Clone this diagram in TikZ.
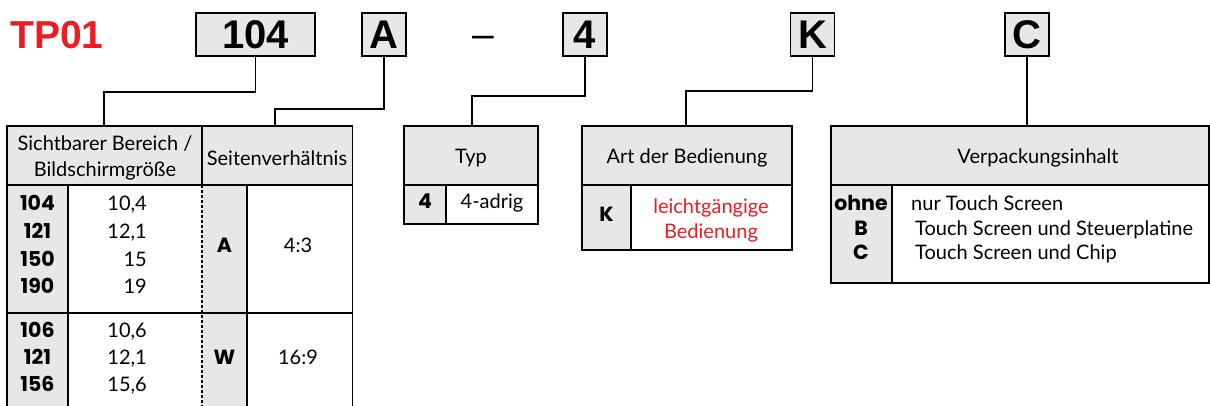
\documentclass[tikz,border=0pt]{standalone}
\usepackage{fontspec}
\setmainfont{Lato}
\newfontfamily\helfont{Liberation Sans}
\newfontfamily\codefont{Poppins}
\definecolor{gfill}{HTML}{E6E7E8}
\definecolor{tpred}{HTML}{ED1C24}
\newcommand\tabfont{\fontsize{20}{26}\selectfont}
\tikzset{
  topbox/.style={draw, line width=1.8pt, fill=gfill, minimum height=43pt, minimum width=44pt, inner sep=0pt, font=\helfont\bfseries\fontsize{40}{40}\selectfont},
  conn/.style={line width=1.6pt},
  outer/.style={line width=1.8pt},
  inner/.style={line width=1.1pt},
  cell/.style={inner sep=0pt, anchor=mid, font=\tabfont},
  cellr/.style={cell, anchor=mid east},
  celll/.style={cell, anchor=mid west},
  code/.style={cell, font=\codefont\bfseries\fontsize{20.5}{26}\selectfont},
  head/.style={inner sep=0pt, align=center, font=\tabfont},
}
\begin{document}
\begin{tikzpicture}[x=1pt,y=-1pt]
\useasboundingbox (0,0) rectangle (1210,405);
% ---------- top row ----------
\node[inner sep=0pt, text=tpred, font=\helfont\bfseries\fontsize{39}{39}\selectfont] (tp) at (57,35) {TP01};
\node[topbox, minimum width=119pt] (b104) at (255.5,34.5) {104};
\node[topbox] (bA) at (384,34.5) {A};
\node[inner sep=0pt, font=\helfont\fontsize{39}{39}\selectfont] (dash) at (483,42) {–};
\node[topbox] (b4) at (584.7,34.5) {4};
\node[topbox] (bK) at (812.5,34.5) {K};
\node[topbox] (bC) at (1027,34.5) {C};
% connector targets
\coordinate (t1) at (104,126);
\coordinate (t2) at (275,126);
\coordinate (t3) at (472,126);
\coordinate (t4) at (686,126);
\coordinate (t5) at (1027,126);
\draw[conn] (b104.south) -- ++(0,35) -| (t1);
\draw[conn] (bA.south) -- ++(0,52) -| (t2);
\draw[conn] (b4.south) -- ++(0,39) -| (t3);
\draw[conn] (bK.south) -- ++(0,34) -| (t4);
\draw[conn] (bC.south) -- (t5);
% ---------- table 1 ----------
\fill[gfill] (7,126) rectangle (352.5,185);
\fill[gfill] (7,185) rectangle (68,412);
\fill[gfill] (202,185) rectangle (247,412);
\draw[inner] (7,185) -- (352.5,185);
\draw[inner] (7,313) -- (352.5,313);
\draw[inner] (202,126) -- (202,185);
\draw[inner, dash pattern=on 3pt off 2pt] (202,185) -- (202,412);
\draw[inner] (68,185) -- (68,412);
\draw[inner] (247,185) -- (247,412);
\draw[outer] (7,412) -- (7,126) -- (352.5,126) -- (352.5,412);
\node[head] (h1) at (105,158) {Sichtbarer Bereich /\\[0pt]Bildschirmgröße};
\node[head] (h2) at (277,158) {Seitenverhältnis};
\node[code] (c1) at (37.5,208) {104};
\node[code] (c2) at (37.5,236) {121};
\node[code] (c3) at (37.5,263.5) {150};
\node[code] (c4) at (37.5,291) {190};
\node[cellr] (v1) at (147,208) {10,4};
\node[cellr] (v2) at (147,236) {12,1};
\node[cellr] (v3) at (147,263.5) {15};
\node[cellr] (v4) at (147,291) {19};
\node[code] (cA) at (224.5,250) {A};
\node[cell] (rA) at (298,250) {4:3};
\node[code] (c5) at (37.5,335) {106};
\node[code] (c6) at (37.5,362) {121};
\node[code] (c7) at (37.5,389) {156};
\node[cellr] (v5) at (147,335) {10,6};
\node[cellr] (v6) at (147,362) {12,1};
\node[cellr] (v7) at (147,389) {15,6};
\node[code] (cW) at (224.5,362) {W};
\node[cell] (rW) at (298,362) {16:9};
% ---------- Typ ----------
\fill[gfill] (404,126) rectangle (538,185);
\fill[gfill] (404,185) rectangle (446,224);
\draw[inner] (404,185) -- (538,185);
\draw[inner] (446,185) -- (446,224);
\draw[outer] (404,126) rectangle (538,224);
\node[head] (h3) at (471,158) {Typ};
\node[code] (c8) at (425,206) {4};
\node[cell] (v8) at (492,206) {4-adrig};
% ---------- Art der Bedienung ----------
\fill[gfill] (582,126) rectangle (792,185);
\fill[gfill] (582,185) rectangle (631,250);
\draw[inner] (582,185) -- (792,185);
\draw[inner] (631,185) -- (631,250);
\draw[outer] (582,126) rectangle (792,250);
\node[head] (h4) at (687,158) {Art der Bedienung};
\node[code] (c9) at (606.5,219) {K};
\node[head, text=tpred] (v9) at (711,220) {leichtgängige\\[-1pt]Bedienung};
% ---------- Verpackungsinhalt ----------
\fill[gfill] (831,126) rectangle (1209,185);
\fill[gfill] (831,185) rectangle (892,283);
\draw[inner] (831,185) -- (1209,185);
\draw[inner] (892,185) -- (892,283);
\draw[outer] (831,126) rectangle (1209,283);
\node[head] (h5) at (1038,158) {Verpackungsinhalt};
\node[code] (c10) at (861,208) {ohne};
\node[code] (c11) at (861,232.5) {B};
\node[code] (c12) at (861,257) {C};
\node[celll] (v10) at (911,208) {nur Touch Screen};
\node[celll] (v11) at (915,232.5) {Touch Screen und Steuerplatine};
\node[celll] (v12) at (915,257) {Touch Screen und Chip};
\end{tikzpicture}
\end{document}
